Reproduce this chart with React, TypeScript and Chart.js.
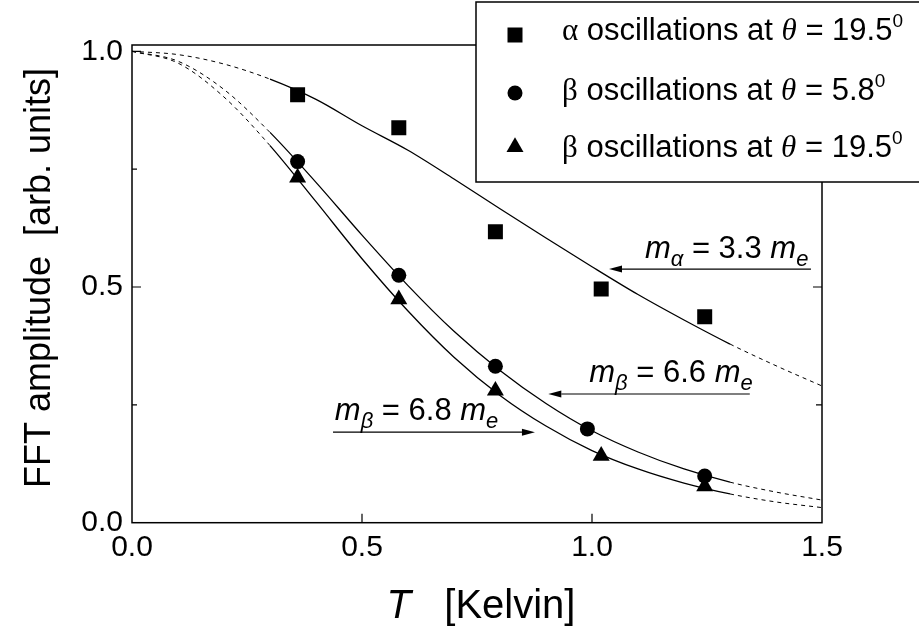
import React, { useEffect, useRef } from 'react';
import { Chart, registerables } from 'chart.js';

Chart.register(...registerables);

// ---- measured data points ----
const alphaT = [0.36, 0.58, 0.79, 1.02, 1.245];
const alphaAmp = [0.908, 0.838, 0.617, 0.496, 0.437];
const beta58T = [0.36, 0.58, 0.79, 0.99, 1.245];
const beta58Amp = [0.766, 0.525, 0.332, 0.199, 0.099];
const beta195T = [0.36, 0.58, 0.79, 1.02, 1.245];
const beta195Amp = [0.732, 0.474, 0.28, 0.142, 0.077];

// ---- fitted curves ----
const fitT = [0, 0.1, 0.2, 0.3, 0.4, 0.5, 0.6, 0.7, 0.8, 0.9, 1.0, 1.1, 1.2, 1.3, 1.4, 1.5];
const fitAlpha = [1.0, 0.993, 0.973, 0.941, 0.898, 0.842, 0.79, 0.729, 0.666, 0.604, 0.543, 0.484, 0.43, 0.379, 0.333, 0.29];
const fitBeta66 = [1.0, 0.979, 0.919, 0.828, 0.722, 0.61, 0.503, 0.406, 0.323, 0.253, 0.195, 0.15, 0.114, 0.086, 0.065, 0.048];
const fitBeta68 = [1.0, 0.975, 0.903, 0.8, 0.681, 0.56, 0.449, 0.351, 0.27, 0.205, 0.153, 0.114, 0.084, 0.061, 0.044, 0.032];
const solidRange = [0.3, 1.3];

// ---- axes ----
const xTicks = [0, 0.5, 1.0, 1.5];
const yTicks = [0, 0.5, 1.0];
const yMinor = [0.25, 0.75];
const xTitleItalic = 'T';
const xTitleRest = '   [Kelvin]';
const yTitle = 'FFT amplitude  [arb. units]';

// ---- legend ----
const legendGreek = ['\u03B1', '\u03B2', '\u03B2'];
const legendAngles = ['19.5', '5.8', '19.5'];
const legendShapes = ['rect', 'circle', 'triangle'];

// ---- annotations ----
const annSub = ['\u03B1', '\u03B2', '\u03B2'];
const annMass = ['3.3', '6.6', '6.8'];

const SANS = '"Liberation Sans", Arial, sans-serif';
const SERIF = '"Liberation Serif", "Times New Roman", serif';

const toXY = (xs: number[], ys: number[]) => xs.map((x, i) => ({ x, y: ys[i] }));

type Part = { text: string; font: string; dy?: number };
function richWidth(ctx: CanvasRenderingContext2D, parts: Part[]) {
  let w = 0;
  for (const p of parts) { ctx.font = p.font; w += ctx.measureText(p.text).width; }
  return w;
}
function drawRich(ctx: CanvasRenderingContext2D, x: number, y: number, parts: Part[]) {
  let cx = x;
  for (const p of parts) {
    ctx.font = p.font;
    ctx.fillText(p.text, cx, y + (p.dy || 0));
    cx += ctx.measureText(p.text).width;
  }
  return cx;
}
function marker(ctx: CanvasRenderingContext2D, shape: string, x: number, y: number) {
  ctx.beginPath();
  if (shape === 'rect') {
    ctx.rect(x - 7.5, y - 7.5, 15, 15);
  } else if (shape === 'circle') {
    ctx.arc(x, y, 7.5, 0, Math.PI * 2);
  } else {
    const r = 9.8;
    ctx.moveTo(x, y - r);
    ctx.lineTo(x + r * 0.866, y + r * 0.5);
    ctx.lineTo(x - r * 0.866, y + r * 0.5);
    ctx.closePath();
  }
  ctx.fill();
}
function arrow(ctx: CanvasRenderingContext2D, x1: number, y1: number, x2: number, y2: number) {
  const dir = Math.sign(x2 - x1);
  const head = 13;
  ctx.beginPath();
  ctx.moveTo(x1, y1);
  ctx.lineTo(x2 - dir * head, y2);
  ctx.stroke();
  ctx.beginPath();
  ctx.moveTo(x2, y2);
  ctx.lineTo(x2 - dir * head, y2 - 3.5);
  ctx.lineTo(x2 - dir * head, y2 + 3.5);
  ctx.closePath();
  ctx.fill();
}

// annotation anchors in data units
const annText = [
  { x: 1.115, y: 0.5615 },
  { x: 0.994, y: 0.2985 },
  { x: 0.441, y: 0.218 },
];
const annArrow = [
  { x1: 1.476, x2: 1.037, y: 0.538 },
  { x1: 1.343, x2: 0.905, y: 0.273 },
  { x1: 0.437, x2: 0.876, y: 0.192 },
];

const decorPlugin = {
  id: 'decor',
  afterDraw(chart: any) {
    const { ctx, chartArea: a } = chart;
    const xs = chart.scales.x;
    const ys = chart.scales.y;
    ctx.save();
    ctx.fillStyle = '#000';
    ctx.strokeStyle = '#000';
    // frame
    ctx.lineWidth = 1.5;
    ctx.strokeRect(a.left, a.top, a.right - a.left, a.bottom - a.top);
    // ticks
    ctx.lineWidth = 1.2;
    ctx.beginPath();
    for (const v of yTicks.slice(1)) {
      const py = ys.getPixelForValue(v);
      ctx.moveTo(a.left, py); ctx.lineTo(a.left + 9, py);
      ctx.moveTo(a.right, py); ctx.lineTo(a.right - 9, py);
    }
    for (const v of yMinor) {
      const py = ys.getPixelForValue(v);
      ctx.moveTo(a.left, py); ctx.lineTo(a.left + 5, py);
      ctx.moveTo(a.right, py); ctx.lineTo(a.right - 6, py);
    }
    for (const v of xTicks.slice(1, -1)) {
      const px = xs.getPixelForValue(v);
      ctx.moveTo(px, a.bottom); ctx.lineTo(px, a.bottom - 9);
    }
    ctx.stroke();

    // annotations
    ctx.lineWidth = 1.2;
    ctx.textAlign = 'left';
    ctx.textBaseline = 'alphabetic';
    for (let i = 0; i < 3; i++) {
      const t = annText[i];
      const parts: Part[] = [
        { text: 'm', font: `italic 31px ${SANS}` },
        { text: annSub[i], font: `italic 22px ${SANS}`, dy: 8 },
        { text: ` = ${annMass[i]} `, font: `31px ${SANS}` },
        { text: 'm', font: `italic 31px ${SANS}` },
        { text: 'e', font: `italic 22px ${SANS}`, dy: 8 },
      ];
      drawRich(ctx, xs.getPixelForValue(t.x), ys.getPixelForValue(t.y), parts);
      const ar = annArrow[i];
      const py = ys.getPixelForValue(ar.y);
      arrow(ctx, xs.getPixelForValue(ar.x1), py, xs.getPixelForValue(ar.x2), py);
    }

    // axis titles
    const xParts: Part[] = [
      { text: xTitleItalic, font: `italic 40px ${SANS}` },
      { text: xTitleRest, font: `40px ${SANS}` },
    ];
    const xw = richWidth(ctx, xParts);
    drawRich(ctx, (a.left + a.right) / 2 + 4 - xw / 2, 618, xParts);

    ctx.save();
    ctx.translate(40, 278);
    ctx.rotate(-Math.PI / 2);
    ctx.font = `36px ${SANS}`;
    ctx.textAlign = 'center';
    ctx.textBaseline = 'middle';
    ctx.fillText(yTitle, 0, 0);
    ctx.restore();

    // legend box
    ctx.fillStyle = '#fff';
    ctx.fillRect(476, 2, 460, 180);
    ctx.lineWidth = 1.5;
    ctx.strokeRect(476, 2, 460, 180);
    ctx.fillStyle = '#000';
    const rowMarkY = [35, 93, 147];
    const rowBase = [40, 100, 157];
    for (let i = 0; i < 3; i++) {
      marker(ctx, legendShapes[i], 515, rowMarkY[i]);
      const parts: Part[] = [
        { text: legendGreek[i], font: `31px ${SERIF}` },
        { text: ' oscillations at ', font: `31px ${SANS}` },
        { text: '\u03B8', font: `italic 31px ${SERIF}` },
        { text: ` = ${legendAngles[i]}`, font: `31px ${SANS}` },
        { text: '0', font: `19px ${SANS}`, dy: -13 },
      ];
      drawRich(ctx, 562, rowBase[i], parts);
    }
    ctx.restore();
  },
};

const dashSeg = (c: any) =>
  c.p0.parsed.x < solidRange[0] - 1e-6 || c.p1.parsed.x > solidRange[1] + 1e-6 ? [4, 4] : undefined;
const widthSeg = (c: any) =>
  c.p0.parsed.x < solidRange[0] - 1e-6 || c.p1.parsed.x > solidRange[1] + 1e-6 ? 1 : 1.3;

function curve(ys: number[]) {
  return {
    type: 'line' as const,
    data: toXY(fitT, ys),
    showLine: true,
    borderColor: '#000',
    borderWidth: 1.3,
    pointRadius: 0,
    cubicInterpolationMode: 'monotone' as const,
    fill: false,
    segment: { borderDash: dashSeg, borderWidth: widthSeg },
  };
}

export default function App() {
  const ref = useRef<HTMLCanvasElement>(null);
  useEffect(() => {
    if (!ref.current) return;
    const chart = new Chart(ref.current, {
      type: 'scatter',
      data: {
        datasets: [
          { data: toXY(alphaT, alphaAmp), pointStyle: 'rect', pointRadius: 10.6, backgroundColor: '#000', borderColor: '#000', borderWidth: 0 },
          { data: toXY(beta58T, beta58Amp), pointStyle: 'circle', pointRadius: 7.5, backgroundColor: '#000', borderColor: '#000', borderWidth: 0 },
          { data: toXY(beta195T, beta195Amp), pointStyle: 'triangle', pointRadius: 9.8, backgroundColor: '#000', borderColor: '#000', borderWidth: 0 },
          curve(fitAlpha) as any,
          curve(fitBeta66) as any,
          curve(fitBeta68) as any,
        ],
      },
      options: {
        animation: false,
        responsive: false,
        layout: { padding: { top: 45, right: 97, left: 0, bottom: 0 } },
        plugins: { legend: { display: false }, tooltip: { enabled: false } },
        scales: {
          x: {
            type: 'linear',
            min: 0,
            max: 1.5,
            afterBuildTicks: (s: any) => { s.ticks = xTicks.map((v) => ({ value: v })); },
            afterFit: (s: any) => { s.height = 106.3; },
            grid: { display: false, drawTicks: false },
            border: { display: false },
            ticks: {
              callback: (v: any) => Number(v).toFixed(1),
              font: { family: SANS, size: 30 },
              color: '#000',
              padding: 7,
              maxRotation: 0,
              autoSkip: false,
            },
          },
          y: {
            type: 'linear',
            min: 0,
            max: 1.0134,
            afterBuildTicks: (s: any) => { s.ticks = yTicks.map((v) => ({ value: v })); },
            afterFit: (s: any) => { s.width = 132; },
            grid: { display: false, drawTicks: false },
            border: { display: false },
            ticks: {
              callback: (v: any) => Number(v).toFixed(1),
              font: { family: SANS, size: 30 },
              color: '#000',
              padding: 9,
              autoSkip: false,
            },
          },
        },
      },
      plugins: [decorPlugin],
    });
    return () => chart.destroy();
  }, []);
  return (
    <div style={{ position: 'absolute', left: 0, top: 0, width: 919, height: 629, background: '#fff' }}>
      <canvas ref={ref} width={919} height={629} style={{ display: 'block' }} />
    </div>
  );
}
